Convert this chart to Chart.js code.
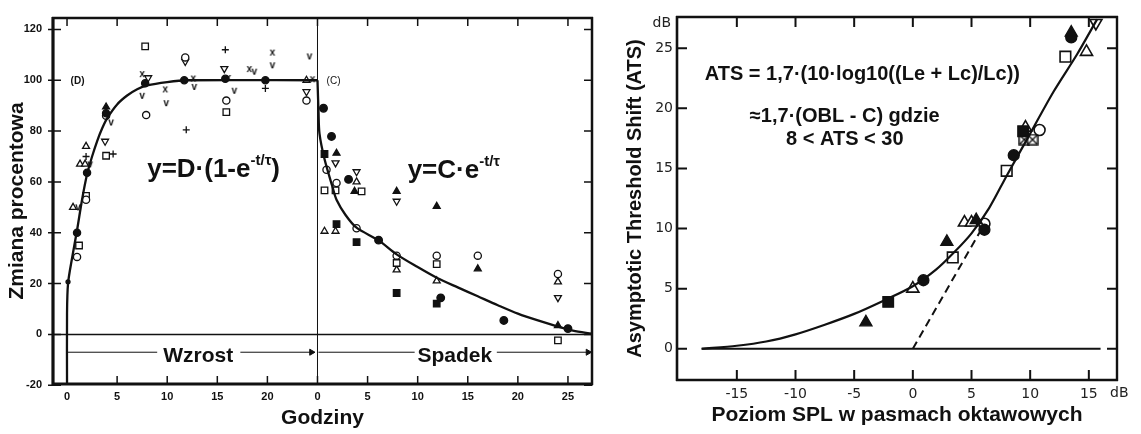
<!DOCTYPE html>
<html lang="pl">
<head>
<meta charset="utf-8">
<script src="https://cdn.jsdelivr.net/npm/chart.js@4"></script>
<style>
  html, body { margin: 0; padding: 0; background: #fff; }
  #lewy { position: absolute; left: 0; top: 0; }
  #prawy { position: absolute; left: 612px; top: 0; }
</style>
</head>
<body>
<canvas id="lewy" width="612" height="434"></canvas>
<canvas id="prawy" width="529" height="434"></canvas>
<script>
// ================= WYKRES LEWY: zmiana procentowa w czasie =================
const PRZESUNIECIE_SPADEK = 25;          // druga część osi liczy godziny od nowa
const GODZ_WZROST_TICKS = [0, 5, 10, 15, 20];
const GODZ_SPADEK_TICKS = [0, 5, 10, 15, 20, 25];
const PROCENT_TICKS = [-20, 0, 20, 40, 60, 80, 100, 120];

// krzywa narastania (godziny, %)
const krzywaWzrost = [[0, -19.5], [0, 8], [0.1, 20], [0.5, 30], [1, 41], [1.5, 53], [2, 63], [2.5, 70],
  [3, 76], [3.5, 81], [4, 85], [5, 90.5], [6, 94], [7, 96.5], [8, 98], [10, 99.3], [12, 100], [25, 100]];
// krzywa zaniku (godziny od końca ekspozycji, %)
const krzywaSpadek = [[0, 100], [0.1, 88], [0.2, 79], [0.7, 69], [1.5, 58], [1.9, 53], [2.8, 47], [3.9, 42],
  [6.1, 37], [7.9, 31.5], [10, 26.5], [11.9, 22.3], [14, 18.5], [16, 15], [18, 11.5], [20, 8.2],
  [22, 5.5], [24, 3.1], [25.5, 1.5], [27.4, 0.3]];

// pomiary w fazie wzrostu
const wzrostKoloPelne = [[1, 40], [2, 63.6], [3.9, 87], [7.8, 98.8], [11.7, 100], [15.8, 100.6], [19.8, 100]];
const wzrostKropka = [[0.1, 20.7]];
const wzrostKolo = [[1, 30.5], [1.9, 53], [3.9, 86], [7.9, 86.3], [11.8, 109], [15.9, 92], [23.9, 92]];
const wzrostKwadrat = [[1.2, 35], [1.9, 54.5], [3.9, 70.3], [7.8, 113.3], [15.9, 87.5]];
const wzrostTrojkat = [[0.6, 50], [1.3, 67], [1.8, 67], [1.9, 74], [23.9, 100]];
const wzrostTrojkatPelny = [[3.9, 89.5]];
const wzrostTrojkatOdwr = [[3.8, 76], [8.1, 101], [11.8, 107.4], [15.7, 104.6], [23.9, 95.5]];
const wzrostPlus = [[1.9, 70], [4.6, 71], [11.9, 80.5], [15.8, 112], [19.8, 96.8]];
const wzrostX = [[7.5, 102], [9.8, 96], [12.6, 100.3], [16.1, 100.5], [18.2, 104], [20.5, 110.5], [24.5, 100]];
const wzrostV = [[1.1, 49.6], [2.3, 66.5], [4.4, 83], [7.5, 93.5], [9.9, 90.6], [12.7, 97], [16.7, 95.5],
  [18.7, 103], [20.5, 105.5], [24.2, 109]];

// pomiary w fazie spadku
const spadekKoloPelne = [[0.6, 89], [1.4, 77.9], [3.1, 61], [6.1, 37.1], [12.3, 14.4], [18.6, 5.5], [25, 2.3]];
const spadekKolo = [[0.9, 64.8], [1.9, 59.6], [3.9, 41.8], [7.9, 31], [11.9, 31], [16, 31], [24, 23.8]];
const spadekKwadrat = [[0.7, 56.7], [1.8, 56.7], [4.4, 56.3], [7.9, 28.1], [11.9, 27.7], [24, -2.3]];
const spadekKwadratPelny = [[0.7, 71], [1.9, 43.4], [3.9, 36.3], [7.9, 16.3], [11.9, 12.1]];
const spadekTrojkat = [[0.7, 40.6], [1.8, 40.6], [3.9, 60], [7.9, 25.4], [11.9, 21.1], [24, 20.7]];
const spadekTrojkatPelny = [[1.9, 71.3], [3.7, 56.3], [7.9, 56.3], [11.9, 50.4], [16, 25.8], [24, 3.5]];
const spadekTrojkatOdwr = [[1.8, 67.5], [3.9, 64], [7.9, 52.4], [24, 14.5]];

// ================= WYKRES PRAWY: ATS w funkcji poziomu SPL =================
const SPL_TICKS = [-15, -10, -5, 0, 5, 10, 15];
const ATS_TICKS = [0, 5, 10, 15, 20, 25];

const krzywaATS = [[-18, 0], [-15, 0.25], [-12.5, 0.6], [-10, 1.2], [-7.5, 2.0], [-5, 2.9], [-2.5, 4.0],
  [0, 5.2], [2, 6.6], [3.5, 8.0], [5, 9.6], [6.5, 11.7], [8, 14.4], [10, 17.9], [12, 21.4], [14, 24.5], [15.7, 27.4]];
const asymptota = [[0, 0], [6, 10.2]];
const liniaZero = [[-18, 0], [16, 0]];

const atsTrojkatPelny = [[-4.0, 2.2], [2.9, 8.9], [5.4, 10.7], [13.5, 26.3]];
const atsKwadratPelny = [[-2.1, 3.9], [9.4, 18.1]];
const atsTrojkat = [[0, 5.0], [4.4, 10.5], [5.0, 10.5], [9.6, 18.4], [14.8, 24.7]];
const atsKoloPelne = [[0.9, 5.7], [6.1, 9.9], [8.6, 16.1], [13.5, 25.9]];
const atsKwadrat = [[3.4, 7.6], [8.0, 14.8], [13.0, 24.3]];
const atsKolo = [[6.1, 10.4], [10.8, 18.2]];
const atsKwadratX = [[9.5, 17.4], [10.2, 17.4]];
const atsTrojkatOdwr = [[15.6, 27.1]];

// ---------------------------------------------------------------------------
const CZARNY = '#111';
const RODZINA = '"Liberation Sans", Arial, sans-serif';

const pkt = (arr, dx = 0) => arr.map(([x, y]) => ({ x: x + dx, y }));

// mały znak (litera) jako styl punktu
function znak(txt, px) {
  const c = document.createElement('canvas');
  c.width = c.height = px + 2;
  const g = c.getContext('2d');
  g.font = `bold ${px}px ${RODZINA}`;
  g.textAlign = 'center';
  g.textBaseline = 'middle';
  g.fillStyle = CZARNY;
  g.fillText(txt, c.width / 2, c.height / 2 - 1);
  return c;
}

// kwadrat przekreślony na krzyż
function kwadratX(s) {
  const c = document.createElement('canvas');
  c.width = c.height = s + 2;
  const g = c.getContext('2d');
  g.strokeStyle = CZARNY;
  g.lineWidth = 1.4;
  g.fillStyle = '#fff';
  g.fillRect(1, 1, s, s);
  g.strokeRect(1, 1, s, s);
  g.beginPath();
  g.moveTo(1, 1); g.lineTo(s + 1, s + 1);
  g.moveTo(s + 1, 1); g.lineTo(1, s + 1);
  g.stroke();
  return c;
}

function punkty(data, styl, pelny, r, extra = {}) {
  return Object.assign({
    data, showLine: false, pointStyle: styl, pointRadius: r,
    pointBackgroundColor: pelny ? CZARNY : '#fff',
    pointBorderColor: CZARNY, pointBorderWidth: 1.3
  }, extra);
}

function linia(data, w, extra = {}) {
  return Object.assign({
    data, showLine: true, pointRadius: 0, borderColor: CZARNY, borderWidth: w, tension: 0.3
  }, extra);
}

// ramka wykresu i krótkie kreski podziałki skierowane do środka
const ramka = {
  id: 'ramka',
  afterDatasetsDraw(chart, _a, o) {
    const { ctx, chartArea: a, scales: { x, y } } = chart;
    ctx.save();
    ctx.strokeStyle = CZARNY;
    ctx.lineWidth = o.tickWidth;
    ctx.beginPath();
    o.xTicks.forEach(v => {
      const px = x.getPixelForValue(v);
      ctx.moveTo(px, a.bottom); ctx.lineTo(px, a.bottom - o.len);
      ctx.moveTo(px, a.top); ctx.lineTo(px, a.top + o.len);
    });
    o.yTicks.forEach(v => {
      const py = y.getPixelForValue(v);
      ctx.moveTo(a.left - o.out, py); ctx.lineTo(a.left + o.len, py);
      ctx.moveTo(a.right, py); ctx.lineTo(a.right - o.len, py);
    });
    ctx.stroke();
    const bok = (w, x1, y1, x2, y2) => {
      ctx.lineWidth = w; ctx.beginPath(); ctx.moveTo(x1, y1); ctx.lineTo(x2, y2); ctx.stroke();
    };
    bok(o.lw.top, a.left - 1, a.top, a.right + 1, a.top);
    bok(o.lw.bottom, a.left - 1, a.bottom, a.right + 1, a.bottom);
    bok(o.lw.left, a.left, a.top - 1, a.left, a.bottom + 1);
    bok(o.lw.right, a.right, a.top - 1, a.right, a.bottom + 1);
    ctx.restore();
  }
};

// napisy umieszczane we współrzędnych danych (z indeksem górnym)
const opisy = {
  id: 'opisy',
  afterDatasetsDraw(chart, _a, o) {
    const { ctx, scales: { x, y } } = chart;
    ctx.save();
    ctx.textBaseline = 'alphabetic';
    (o.items || []).forEach(it => {
      const czesci = it.parts || [{ t: it.text }];
      let w = 0;
      czesci.forEach(p => {
        ctx.font = `${it.weight || 'bold'} ${p.size || it.size}px ${it.family || RODZINA}`;
        p._w = ctx.measureText(p.t).width;
        w += p._w;
      });
      let px = x.getPixelForValue(it.x);
      if (it.align === 'center') px -= w / 2;
      const py = y.getPixelForValue(it.y);
      ctx.fillStyle = it.color || CZARNY;
      czesci.forEach(p => {
        ctx.font = `${it.weight || 'bold'} ${p.size || it.size}px ${it.family || RODZINA}`;
        ctx.fillText(p.t, px, py - (p.rise || 0));
        px += p._w;
      });
    });
    ctx.restore();
  }
};

const bezLegendy = { legend: { display: false }, tooltip: { enabled: false } };

// ----------------------------- wykres lewy ---------------------------------
const osGodzin = GODZ_WZROST_TICKS.concat(GODZ_SPADEK_TICKS.map(v => v + PRZESUNIECIE_SPADEK));
const etykietyGodzin = GODZ_WZROST_TICKS.concat(GODZ_SPADEK_TICKS).map(String);
const S = PRZESUNIECIE_SPADEK;

new Chart(document.getElementById('lewy'), {
  type: 'scatter',
  data: {
    datasets: [
      linia(pkt([[-1.4, 0], [52.4, 0]]), 1.4, { tension: 0 }),
      linia(pkt([[S, -19.5], [S, 124.5]]), 1, { tension: 0 }),
      linia(pkt(krzywaWzrost), 2.3),
      linia(pkt(krzywaSpadek, S), 2.3),
      // strzałki "Wzrost" i "Spadek"
      linia(pkt([[0.1, -7], [9.0, -7]]), 1, { tension: 0 }),
      linia(pkt([[17.3, -7], [24.4, -7]]), 1, { tension: 0, pointRadius: [0, 3.5], pointStyle: 'triangle',
        rotation: 90, pointBackgroundColor: CZARNY, pointBorderColor: CZARNY }),
      linia(pkt([[0.1, -7], [9.7, -7]], S), 1, { tension: 0 }),
      linia(pkt([[17.9, -7], [27.0, -7]], S), 1, { tension: 0, pointRadius: [0, 3.5], pointStyle: 'triangle',
        rotation: 90, pointBackgroundColor: CZARNY, pointBorderColor: CZARNY }),

      punkty(pkt(wzrostKropka), 'circle', true, 2),
      punkty(pkt(wzrostKoloPelne), 'circle', true, 3.6),
      punkty(pkt(wzrostKolo), 'circle', false, 3.6),
      punkty(pkt(wzrostKwadrat), 'rect', false, 4.6),
      punkty(pkt(wzrostTrojkat), 'triangle', false, 4),
      punkty(pkt(wzrostTrojkatPelny), 'triangle', true, 4),
      punkty(pkt(wzrostTrojkatOdwr), 'triangle', false, 4, { rotation: 180 }),
      punkty(pkt(wzrostPlus), 'cross', false, 3.5),
      punkty(pkt(wzrostX), znak('x', 10), false, 4),
      punkty(pkt(wzrostV), znak('v', 10), false, 4),

      punkty(pkt(spadekKoloPelne, S), 'circle', true, 3.8),
      punkty(pkt(spadekKolo, S), 'circle', false, 3.6),
      punkty(pkt(spadekKwadrat, S), 'rect', false, 4.6),
      punkty(pkt(spadekKwadratPelny, S), 'rect', true, 4.6),
      punkty(pkt(spadekTrojkat, S), 'triangle', false, 4),
      punkty(pkt(spadekTrojkatPelny, S), 'triangle', true, 4),
      punkty(pkt(spadekTrojkatOdwr, S), 'triangle', false, 4, { rotation: 180 })
    ]
  },
  options: {
    responsive: false,
    animation: false,
    layout: { padding: { top: 18, right: 20, left: 0, bottom: 0 } },
    plugins: Object.assign({}, bezLegendy, {
      ramka: { xTicks: osGodzin, yTicks: PROCENT_TICKS, len: 8, out: 5, tickWidth: 1.5,
        lw: { left: 3.2, bottom: 3, top: 2.5, right: 2.5 } },
      opisy: { items: [
        { x: 8.0, y: 62, size: 26, parts: [{ t: 'y=D·(1-e' }, { t: '-t/τ', size: 15, rise: 12 }, { t: ')' }] },
        { x: S + 9.0, y: 61.6, size: 26, parts: [{ t: 'y=C·e' }, { t: '-t/τ', size: 15, rise: 12 }] },
        { x: 1.05, y: 98.6, size: 10, align: 'center', text: '(D)' },
        { x: S + 1.6, y: 98.6, size: 10, align: 'center', text: '(C)', weight: 'normal' },
        { x: 13.1, y: -10.8, size: 21, align: 'center', text: 'Wzrost' },
        { x: S + 13.7, y: -10.8, size: 21, align: 'center', text: 'Spadek' }
      ] }
    }),
    scales: {
      x: {
        type: 'linear', min: -1.4, max: 52.4,
        afterBuildTicks: s => { s.ticks = osGodzin.map(v => ({ value: v })); },
        afterFit: s => { s.height = 50; },
        grid: { display: false, drawTicks: false },
        border: { display: false },
        ticks: {
          padding: 6, color: CZARNY, font: { family: RODZINA, size: 11, weight: 'bold' },
          callback: (v, i) => etykietyGodzin[i]
        },
        title: { display: true, text: 'Godziny', color: CZARNY, padding: { bottom: 3 },
          font: { family: RODZINA, size: 21, weight: 'bold' } }
      },
      y: {
        min: -19.5, max: 124.5,
        afterBuildTicks: s => { s.ticks = PROCENT_TICKS.map(v => ({ value: v })); },
        afterFit: s => { s.width = 53; },
        grid: { display: false, drawTicks: false },
        border: { display: false },
        ticks: { padding: 11, color: CZARNY, font: { family: RODZINA, size: 11, weight: 'bold' } },
        title: { display: true, text: 'Zmiana procentowa', color: CZARNY, padding: { top: 5 },
          font: { family: RODZINA, size: 21, weight: 'bold' } }
      }
    }
  },
  plugins: [ramka, opisy]
});

// ----------------------------- wykres prawy --------------------------------
new Chart(document.getElementById('prawy'), {
  type: 'scatter',
  data: {
    datasets: [
      linia(pkt(liniaZero), 2, { tension: 0 }),
      linia(pkt(asymptota), 2, { tension: 0, borderDash: [8, 5] }),
      linia(pkt(krzywaATS), 2.2),
      punkty(pkt(atsTrojkatPelny), 'triangle', true, 7),
      punkty(pkt(atsKwadratPelny), 'rect', true, 7.5),
      punkty(pkt(atsTrojkat), 'triangle', false, 7, { pointBorderWidth: 1.6 }),
      punkty(pkt(atsKoloPelne), 'circle', true, 5.5),
      punkty(pkt(atsKwadrat), 'rect', false, 7.5, { pointBorderWidth: 1.6 }),
      punkty(pkt(atsKolo), 'circle', false, 5.5, { pointBorderWidth: 1.6 }),
      punkty(pkt(atsKwadratX), kwadratX(10), false, 6),
      punkty(pkt(atsTrojkatOdwr), 'triangle', false, 7, { rotation: 180, pointBorderWidth: 1.6 })
    ]
  },
  options: {
    responsive: false,
    animation: false,
    layout: { padding: { top: 17, right: 24, left: 0, bottom: 0 } },
    plugins: Object.assign({}, bezLegendy, {
      ramka: { xTicks: SPL_TICKS, yTicks: ATS_TICKS, len: 10, out: 0, tickWidth: 2,
        lw: { left: 2.6, bottom: 2.6, top: 2.4, right: 2.4 } },
      opisy: { items: [
        { x: -4.3, y: 22.4, size: 20, align: 'center', text: 'ATS = 1,7·(10·log10((Le + Lc)/Lc))' },
        { x: -5.8, y: 18.85, size: 20, align: 'center', text: '≈1,7·(OBL - C) gdzie' },
        { x: -5.8, y: 16.95, size: 20, align: 'center', text: '8 < ATS < 30' },
        { x: -21.4, y: 26.75, size: 14, align: 'center', text: 'dB', weight: 'normal',
          family: '"DejaVu Sans", sans-serif', color: '#222' },
        { x: 17.6, y: -4.0, size: 14, align: 'center', text: 'dB', weight: 'normal',
          family: '"DejaVu Sans", sans-serif', color: '#222' }
      ] }
    }),
    scales: {
      x: {
        type: 'linear', min: -20.1, max: 17.4,
        afterBuildTicks: s => { s.ticks = SPL_TICKS.map(v => ({ value: v })); },
        afterFit: s => { s.height = 54; },
        grid: { display: false, drawTicks: false },
        border: { display: false },
        ticks: { padding: 6, color: '#222', font: { family: '"DejaVu Sans", sans-serif', size: 14 } },
        title: { display: true, text: 'Poziom SPL w pasmach oktawowych', color: CZARNY, padding: { bottom: 6 },
          font: { family: RODZINA, size: 21, weight: 'bold' } }
      },
      y: {
        min: -2.6, max: 27.6,
        afterBuildTicks: s => { s.ticks = ATS_TICKS.map(v => ({ value: v })); },
        afterFit: s => { s.width = 65; },
        grid: { display: false, drawTicks: false },
        border: { display: false },
        ticks: { padding: 4, color: '#222', font: { family: '"DejaVu Sans", sans-serif', size: 14 } },
        title: { display: true, text: 'Asymptotic Threshold Shift (ATS)', color: CZARNY, padding: { top: 11 },
          font: { family: RODZINA, size: 20, weight: 'bold' } }
      }
    }
  },
  plugins: [ramka, opisy]
});
</script>
</body>
</html>
